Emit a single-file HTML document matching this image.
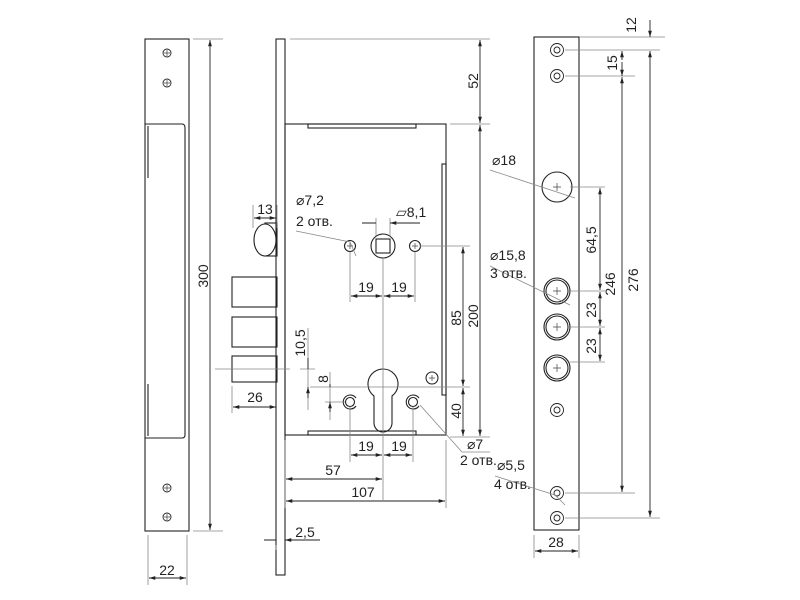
<!DOCTYPE html><html><head><meta charset="utf-8"><style>body{margin:0;background:#fff}svg{display:block}text{font-family:"Liberation Sans","DejaVu Sans",sans-serif;font-size:14px;fill:#222}</style></head><body>
<svg width="800" height="600" viewBox="0 0 800 600" xmlns="http://www.w3.org/2000/svg">
<defs><marker id="a" viewBox="0 0 10 10" refX="10" refY="5" markerWidth="7" markerHeight="7" orient="auto-start-reverse"><path d="M0,2 L10,5 L0,8 z" fill="#222"/></marker></defs>
<g fill="none" stroke="#222" stroke-width="1.1">
<rect x="145" y="39" width="44" height="492"/>
<path d="M145,124 H182 Q185,124 185,128 V435 Q185,438 182,438 H145"/>
<path d="M148,126 V178 M148,384 V436"/>
<rect x="276" y="39" width="9" height="536"/>
<rect x="285" y="124" width="161" height="311"/>
<rect x="308" y="124" width="108" height="4"/>
<rect x="308" y="431" width="108" height="4"/>
<rect x="442" y="164" width="4" height="231"/>
<rect x="265" y="223" width="12" height="33"/>
<ellipse cx="265" cy="240" rx="11" ry="16" fill="#fff"/>
<rect x="232" y="277" width="45" height="30"/>
<rect x="232" y="317" width="45" height="30"/>
<rect x="232" y="356" width="45" height="26"/>
<circle cx="383" cy="246" r="12"/><rect x="376" y="239" width="14" height="14"/>
<circle cx="350" cy="246" r="5.5"/><circle cx="415" cy="246" r="5.5"/>
<path d="M374,396 A15,15 0 1 1 392,396 V423 A9,9 0 0 1 374,423 Z"/>
<circle cx="350" cy="402" r="4.5"/><path d="M356,406 A7,7 0 1 1 356,398"/>
<circle cx="413" cy="402" r="4.5"/><path d="M419,406 A7,7 0 1 1 419,398"/>
<circle cx="432" cy="378" r="6"/>
<rect x="534" y="37" width="45" height="493"/>
<circle cx="557" cy="187" r="15"/>
<circle cx="557" cy="291" r="13"/><circle cx="557" cy="291" r="11"/>
<circle cx="557" cy="327" r="13"/><circle cx="557" cy="327" r="11"/>
<circle cx="557" cy="368" r="13"/><circle cx="557" cy="368" r="11"/>
</g>
<g fill="none" stroke="#222" stroke-width="0.9">
<circle cx="167" cy="53" r="4"/><circle cx="167" cy="83" r="4"/><circle cx="167" cy="488" r="4"/><circle cx="167" cy="517" r="4"/>
<circle cx="557" cy="50" r="6.5"/><circle cx="557" cy="50" r="3"/>
<circle cx="557" cy="76" r="6.5"/><circle cx="557" cy="76" r="3"/>
<circle cx="557" cy="410" r="6.5"/><circle cx="557" cy="410" r="3"/>
<circle cx="557" cy="493" r="6.5"/><circle cx="557" cy="493" r="3"/>
<circle cx="557" cy="518" r="6.5"/><circle cx="557" cy="518" r="3"/>
</g>
<g stroke="#444" stroke-width="0.7">
<path d="M164,53h6M167,50v6M164,83h6M167,80v6M164,488h6M167,485v6M164,517h6M167,514v6"/>
<path d="M553,187h8M557,183v8M553,291h8M557,287v8M553,327h8M557,323v8M553,368h8M557,364v8"/>
<path d="M429,378h6M432,375v6M412,246h6M415,243v6M347,246h6M350,243v6"/>
</g>
<g stroke="#888" stroke-width="0.8" fill="none">
<path d="M193,39 H223 M193,531 H223 M148,535 V585 M187,535 V585"/>
<path d="M290,39 H490 M450,124 H490 M420,246 H470 M310,387 H470 M450,437 H490"/>
<path d="M253,205 V228 M277,205 V228 M376,218 V236 M390,218 V236"/>
<path d="M350,252 V302 M383,258 V500 M415,252 V302 M446,440 V508 M285,440 V508"/>
<path d="M350,407 V462 M413,407 V462"/>
<path d="M215,369 H290 M300,369 H315 M308,328 V410 M330,372 V420 M325,402 H345"/>
<path d="M232,386 V413 M276,545 V550"/>
<path d="M296,231 L350,242 L356,256"/>
<path d="M462,452 L420,405 M462,452 H490"/>
<path d="M580,37 H665 M565,50 H660 M565,76 H635 M565,493 H635 M565,518 H660"/>
<path d="M570,187 H605 M570,291 H605 M570,327 H605 M570,362 H605"/>
<path d="M534,535 V558 M579,535 V558"/>
<path d="M490,170 L575,198 M490,266 L570,305 M495,476 L555,495 L565,505"/>
</g>
<g stroke="#222" stroke-width="0.9" fill="none">
<line x1="210" y1="40" x2="210" y2="530" marker-start="url(#a)" marker-end="url(#a)"/>
<line x1="149" y1="578" x2="186" y2="578" marker-start="url(#a)" marker-end="url(#a)"/>
<line x1="480" y1="40" x2="480" y2="123" marker-start="url(#a)" marker-end="url(#a)"/>
<line x1="480" y1="125" x2="480" y2="436" marker-start="url(#a)" marker-end="url(#a)"/>
<line x1="463" y1="247" x2="463" y2="386" marker-start="url(#a)" marker-end="url(#a)"/>
<line x1="463" y1="388" x2="463" y2="436" marker-start="url(#a)" marker-end="url(#a)"/>
<line x1="254" y1="218" x2="276" y2="218" marker-start="url(#a)" marker-end="url(#a)"/>
<path d="M362,223 H376 M404,223 H390" marker-end="url(#a)"/>
<path d="M390,223 H420"/>
<line x1="351" y1="296" x2="382" y2="296" marker-start="url(#a)" marker-end="url(#a)"/>
<line x1="384" y1="296" x2="414" y2="296" marker-start="url(#a)" marker-end="url(#a)"/>
<line x1="351" y1="455" x2="382" y2="455" marker-start="url(#a)" marker-end="url(#a)"/>
<line x1="384" y1="455" x2="412" y2="455" marker-start="url(#a)" marker-end="url(#a)"/>
<line x1="286" y1="479" x2="382" y2="479" marker-start="url(#a)" marker-end="url(#a)"/>
<line x1="286" y1="501" x2="445" y2="501" marker-start="url(#a)" marker-end="url(#a)"/>
<line x1="233" y1="407" x2="276" y2="407" marker-start="url(#a)" marker-end="url(#a)"/>
<path d="M264,540 H276 M297,540 H285" marker-end="url(#a)"/><path d="M285,540 H320"/>
<path d="M308,358 V369 M308,398 V387" marker-end="url(#a)"/>
<path d="M330,384 V387 M330,412 V402" marker-end="url(#a)"/>
<line x1="535" y1="551" x2="578" y2="551" marker-start="url(#a)" marker-end="url(#a)"/>
<path d="M650,20 V37" marker-end="url(#a)"/>
<line x1="650" y1="51" x2="650" y2="517" marker-start="url(#a)" marker-end="url(#a)"/>
<path d="M622,62 V76" marker-end="url(#a)"/><path d="M622,51 V60" marker-start="url(#a)"/>
<line x1="622" y1="77" x2="622" y2="492" marker-start="url(#a)" marker-end="url(#a)"/>
<line x1="600" y1="188" x2="600" y2="290" marker-start="url(#a)" marker-end="url(#a)"/>
<line x1="600" y1="292" x2="600" y2="326" marker-start="url(#a)" marker-end="url(#a)"/>
<line x1="600" y1="328" x2="600" y2="361" marker-start="url(#a)" marker-end="url(#a)"/>
</g>
<g>
<text transform="translate(208,276) rotate(-90)" text-anchor="middle">300</text>
<text x="167" y="575" text-anchor="middle">22</text>
<text transform="translate(478,81) rotate(-90)" text-anchor="middle">52</text>
<text transform="translate(478,316) rotate(-90)" text-anchor="middle">200</text>
<text transform="translate(461,318) rotate(-90)" text-anchor="middle">85</text>
<text transform="translate(461,411) rotate(-90)" text-anchor="middle">40</text>
<text x="265" y="214" text-anchor="middle">13</text>
<text x="296" y="205">⌀7,2</text><text x="296" y="226">2 отв.</text>
<text x="396" y="217">▱8,1</text>
<text x="366" y="292" text-anchor="middle">19</text><text x="399" y="292" text-anchor="middle">19</text>
<text transform="translate(305,343) rotate(-90)" text-anchor="middle">10,5</text>
<text transform="translate(328,379) rotate(-90)" text-anchor="middle">8</text>
<text x="255" y="402" text-anchor="middle">26</text>
<text x="366" y="451" text-anchor="middle">19</text><text x="399" y="451" text-anchor="middle">19</text>
<text x="333" y="475" text-anchor="middle">57</text>
<text x="363" y="497" text-anchor="middle">107</text>
<text x="305" y="537" text-anchor="middle">2,5</text>
<text x="467" y="449">⌀7</text><text x="460" y="465">2 отв.</text>
<text transform="translate(636,25) rotate(-90)" text-anchor="middle">12</text>
<text transform="translate(617,63) rotate(-90)" text-anchor="middle">15</text>
<text transform="translate(638,280) rotate(-90)" text-anchor="middle">276</text>
<text transform="translate(615,284) rotate(-90)" text-anchor="middle">246</text>
<text transform="translate(596,240) rotate(-90)" text-anchor="middle">64,5</text>
<text transform="translate(596,310) rotate(-90)" text-anchor="middle">23</text>
<text transform="translate(596,346) rotate(-90)" text-anchor="middle">23</text>
<text x="492" y="165">⌀18</text>
<text x="490" y="260">⌀15,8</text><text x="490" y="278">3 отв.</text>
<text x="497" y="470">⌀5,5</text><text x="494" y="489">4 отв.</text>
<text x="556" y="547" text-anchor="middle">28</text>
</g>
</svg>
</body></html>
